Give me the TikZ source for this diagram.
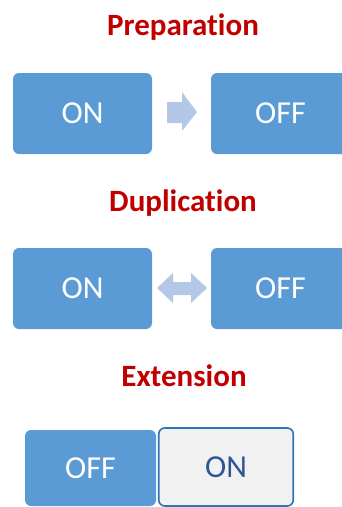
\documentclass[tikz,border=0pt]{standalone}
\usepackage{fontspec}
\setmainfont[Ligatures=NoCommon]{Carlito}
\definecolor{boxblue}{HTML}{5B9BD5}
\definecolor{arrowblue}{HTML}{B4C7E7}
\definecolor{titlered}{HTML}{C00000}
\definecolor{edgeblue}{HTML}{2E75B6}
\definecolor{textblue}{HTML}{2F5597}
\definecolor{palegray}{HTML}{F1F1F1}
\begin{document}
\begin{tikzpicture}[x=1pt,y=-1pt,
  title/.style={text=titlered,font=\fontsize{31}{33}\selectfont\bfseries,anchor=base,inner sep=0pt},
  statebox/.style={fill=boxblue,draw=none,rounded corners=6pt,text=white,
    font=\fontsize{32}{34}\selectfont,inner sep=0pt,
    minimum width=139pt,minimum height=81pt},
  activebox/.style={fill=palegray,draw=edgeblue,line width=1.6pt,rounded corners=6pt,
    text=textblue,font=\fontsize{32}{34}\selectfont,inner sep=0pt},
  blockarrow/.style={fill=arrowblue,draw=none}]
\useasboundingbox (0,0) rectangle (342,507);
\clip (0,0) rectangle (342,507);

% Preparation: ON is turned into OFF
\node[title] (t1) at (183,35) {Preparation};
\node[statebox] (p1) at (82.5,113.5) {ON};
\node[statebox] (p2) at (280.5,113.5) {OFF};
\fill[blockarrow] (167,102) -- (182,102) -- (182,92) -- (197,112) -- (182,131)
  -- (182,123) -- (167,123) -- cycle;

% Duplication: ON and OFF both ways
\node[title] (t2) at (183,211) {Duplication};
\node[statebox] (d1) at (82.5,288.5) {ON};
\node[statebox] (d2) at (280.5,288.5) {OFF};
\fill[blockarrow] (157,288) -- (173,273) -- (173,282) -- (191,282) -- (191,273)
  -- (207,288) -- (191,303) -- (191,295) -- (173,295) -- (173,303) -- cycle;

% Extension: an OFF box next to an outlined ON box
\node[title] (t3) at (184,386) {Extension};
\node[statebox,minimum width=131pt,minimum height=76pt] (e1) at (90.5,468) {OFF};
\node[activebox,minimum width=134.5pt,minimum height=78pt] (e2) at (226,467) {ON};
\end{tikzpicture}
\end{document}
